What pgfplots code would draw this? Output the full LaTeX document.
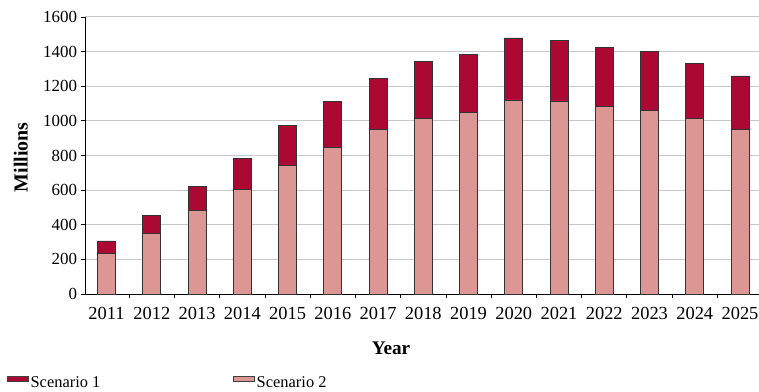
\documentclass[border=0pt]{standalone}
\usepackage{pgfplots}
\pgfplotsset{compat=1.18}
\usepackage{fontspec}
\setmainfont{Liberation Serif}
\definecolor{scone}{HTML}{AB0834}
\definecolor{sctwo}{HTML}{DC9795}
\definecolor{gridc}{HTML}{C8C8C8}
\begin{document}
\begin{tikzpicture}
\useasboundingbox (-85.3bp,-98bp) rectangle (673.7bp,294bp);
\begin{axis}[
  scale only axis, width=673.7bp, height=277bp,
  xmin=-0.47, xmax=14.42, ymin=0, ymax=1600,
  enlargelimits=false,
  axis x line=bottom, axis y line=left,
  axis line style={-, black, line width=0.9bp},
  xtick={0,...,14},
  xticklabels={2011,2012,2013,2014,2015,2016,2017,2018,2019,2020,2021,2022,2023,2024,2025},
  major x tick style={draw=none},
  minor xtick={0.5,1.5,...,13.5},
  ytick={0,200,...,1600},
  /pgf/number format/1000 sep={},
  /pgf/number format/assume math mode=true,
  tick align=outside,
  major tick length=4bp, minor tick length=4bp,
  tick style={black, line width=0.8bp},
  ymajorgrids, grid style={gridc, line width=1bp},
  xticklabel style={font=\fontsize{18.5}{20}\selectfont, anchor=base, inner sep=0pt, yshift=-21bp},
  yticklabel style={font=\fontsize{17}{18}\selectfont, anchor=east, inner sep=0pt, xshift=-4bp},
  every axis y label/.style={at={(axis description cs:-0.0957,0.493)}, rotate=90, anchor=center, font=\bfseries\fontsize{20}{22}\selectfont},
  every axis x label/.style={at={(axis description cs:0.4538,-0.2202)}, anchor=base, font=\bfseries\fontsize{19.3}{21}\selectfont},
  xlabel={Year}, ylabel={Millions},
  legend columns=2,
  legend style={at={(axis description cs:-0.1158,-0.3419)}, anchor=south west,
    draw=none, fill=none, inner sep=0pt, outer sep=0pt,
    font=\fontsize{16.5}{18}\selectfont,
    nodes={inner sep=0pt},
    /tikz/every odd column/.append style={column sep=1.7bp},
    /tikz/every even column/.append style={column sep=133bp}},
  legend image code/.code={\draw[#1, draw=black!75, line width=0.6bp] (0bp,1.4bp) rectangle (21bp,6bp);},
]
\addplot[ybar, bar width=18bp, bar shift=0pt, fill=scone, draw=black!80, line width=0.7bp]
  coordinates {(0,307) (1,456) (2,620) (3,785) (4,976) (5,1112) (6,1245) (7,1342) (8,1384) (9,1479) (10,1466) (11,1426) (12,1401) (13,1333) (14,1260)};
\addlegendentry{Scenario 1}
\addplot[ybar, bar width=18bp, bar shift=0pt, fill=sctwo, draw=black!80, line width=0.7bp]
  coordinates {(0,236) (1,349) (2,482) (3,606) (4,745) (5,847) (6,949) (7,1012) (8,1049) (9,1121) (10,1115) (11,1083) (12,1060) (13,1012) (14,951)};
\addlegendentry{Scenario 2}
\end{axis}
\end{tikzpicture}
\end{document}
